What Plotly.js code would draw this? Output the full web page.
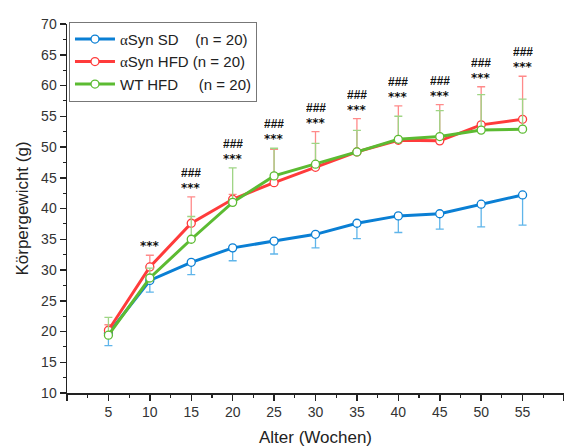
<!DOCTYPE html>
<html>
<head>
<meta charset="utf-8">
<script src="https://cdn.plot.ly/plotly-3.0.1.min.js"></script>
<style>html,body{margin:0;padding:0;background:#fff;}#chart{width:564px;height:448px;}</style>
</head>
<body>
<div id="chart"></div>
<script>
const weeks = [5, 10, 15, 20, 25, 30, 35, 40, 45, 50, 55];

const sdMean = [19.7, 28.3, 31.25, 33.6, 34.7, 35.8, 37.6, 38.8, 39.15, 40.7, 42.2];
const sdErrDown = [2.0, 1.9, 2.0, 2.1, 2.1, 2.2, 2.5, 2.7, 2.5, 3.7, 4.9];

const hfdMean = [20.2, 30.5, 37.6, 41.5, 44.2, 46.7, 49.2, 51.1, 51.0, 53.6, 54.5];
const hfdErrUp = [0.9, 1.9, 4.3, 0.8, 5.4, 5.8, 5.4, 5.6, 5.9, 6.2, 7.0];

const wtMean = [19.4, 28.7, 35.0, 41.0, 45.3, 47.2, 49.2, 51.25, 51.7, 52.75, 52.9];
const wtErrUp = [2.9, 1.6, 3.7, 5.6, 4.5, 3.4, 3.5, 3.75, 4.2, 5.75, 4.9];

const starLabels = ["", "***", "***", "***", "***", "***", "***", "***", "***", "***", "***"];
const hashLabels = ["", "", "###", "###", "###", "###", "###", "###", "###", "###", "###"];

const xTickVals = [0, 5, 10, 15, 20, 25, 30, 35, 40, 45, 50, 55, 60];
const xTickText = ["", "5", "10", "15", "20", "25", "30", "35", "40", "45", "50", "55", ""];
const yTickVals = [10, 15, 20, 25, 30, 35, 40, 45, 50, 55, 60, 65, 70];

const alpha = "<span style=\"font-family:'Liberation Serif', serif\">\u03b1</span>";
const legendNames = [alpha + "Syn SD\u00a0\u00a0\u00a0\u00a0(n = 20)", alpha + "Syn HFD\u00a0(n = 20)", "WT HFD\u00a0\u00a0\u00a0\u00a0\u00a0(n = 20)"];

const blue = "#0a7fd4", red = "#ff3b3b", green = "#5cbb32";
const blueE = "#5fb5ea", redE = "#ff8a8a", greenE = "#9fd585";
const FONT = "Liberation Sans, Arial, sans-serif";

function trace(y, name, col, ecol, err) {
  return {
    x: weeks, y: y, name: name, type: "scatter", mode: "lines+markers",
    line: {color: col, width: 3},
    marker: {symbol: "circle", size: 8, color: "#ffffff", line: {color: col, width: 1.3}},
    error_y: Object.assign({type: "data", symmetric: false, color: ecol, thickness: 1.3, width: 4}, err)
  };
}

const zeros = weeks.map(() => 0);
const data = [
  trace(sdMean, legendNames[0], blue, blueE, {array: zeros, arrayminus: sdErrDown}),
  trace(hfdMean, legendNames[1], red, redE, {array: hfdErrUp, arrayminus: zeros}),
  trace(wtMean, legendNames[2], green, greenE, {array: wtErrUp, arrayminus: zeros})
];

const annotations = [];
weeks.forEach((w, i) => {
  const top = Math.max(hfdMean[i] + hfdErrUp[i], wtMean[i] + wtErrUp[i], sdMean[i]);
  if (starLabels[i]) annotations.push({
    x: w, y: top, xref: "x", yref: "y", text: "<b>" + starLabels[i] + "</b>", showarrow: false,
    yanchor: "bottom", yshift: 3, height: 11, valign: "middle", borderpad: 0,
    font: {family: "DejaVu Sans, sans-serif", size: 12, color: "#111"}
  });
  if (hashLabels[i]) annotations.push({
    x: w, y: top, xref: "x", yref: "y", text: "<b>" + hashLabels[i] + "</b>", showarrow: false,
    yanchor: "bottom", yshift: 18, height: 11, valign: "middle", borderpad: 0,
    font: {family: FONT, size: 12, color: "#111"}
  });
});

const tickFont = {family: FONT, size: 14, color: "#333"};

const layout = {
  width: 564, height: 448,
  margin: {l: 67, r: 0, t: 24, b: 55},
  paper_bgcolor: "#fff", plot_bgcolor: "#fff",
  showlegend: true,
  legend: {
    x: 0.004, y: 1.006, xanchor: "left", yanchor: "top",
    bgcolor: "#fff", bordercolor: "#777", borderwidth: 1,
    font: {family: FONT, size: 15, color: "#222"},
    tracegroupgap: 0, itemwidth: 40
  },
  xaxis: {
    range: [0, 60], tickmode: "array", tickvals: xTickVals, ticktext: xTickText,
    ticks: "outside", ticklen: 6, tickwidth: 1.5, tickcolor: "#222",
    showline: true, linecolor: "#222", linewidth: 1.5, showgrid: false, zeroline: false,
    tickfont: tickFont,
    minor: {dtick: 2.5, ticks: "outside", ticklen: 3, tickwidth: 1.2, tickcolor: "#222", showgrid: false},
    title: {text: "Alter (Wochen)", font: {family: FONT, size: 17, color: "#222"}, standoff: 12}
  },
  yaxis: {
    range: [10, 70], tickmode: "array", tickvals: yTickVals,
    ticks: "outside", ticklen: 6, tickwidth: 1.5, tickcolor: "#222",
    showline: true, linecolor: "#222", linewidth: 1.5, showgrid: false, zeroline: false,
    tickfont: tickFont,
    minor: {dtick: 2.5, ticks: "outside", ticklen: 3, tickwidth: 1.2, tickcolor: "#222", showgrid: false},
    title: {text: "Körpergewicht (g)", font: {family: FONT, size: 17, color: "#222"}, standoff: 8}
  },
  annotations: annotations
};

Plotly.newPlot("chart", data, layout, {staticPlot: true, displayModeBar: false});
</script>
</body>
</html>
